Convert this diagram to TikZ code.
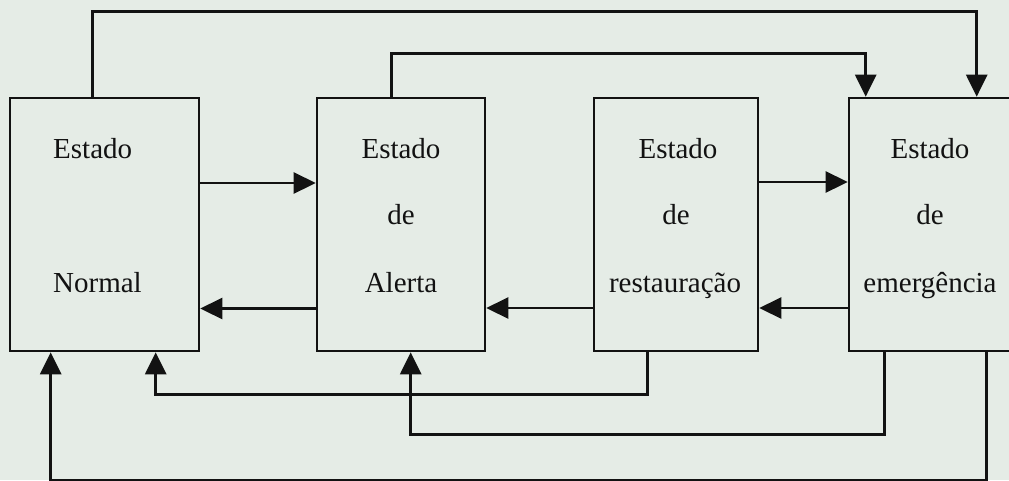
\documentclass[tikz,border=0pt]{standalone}
\usepackage{fontspec}
\setmainfont{Liberation Serif}
\usetikzlibrary{arrows.meta}
\definecolor{paper}{RGB}{229,236,230}
\definecolor{ink}{RGB}{18,18,18}
\begin{document}
\begin{tikzpicture}[x=1pt,y=-1pt,
  state/.style={draw=ink, line width=2.6pt, rectangle, inner sep=0pt,
    minimum height=253pt},
  lbl/.style={anchor=base, inner sep=0pt, text=ink,
    font=\fontsize{29}{34}\selectfont},
  arr/.style={draw=ink, line width=2.6pt,
    -{Triangle[length=22pt,width=21pt]}}]
% page
\fill[paper] (0,0) rectangle (1009,480);
\useasboundingbox (0,0) rectangle (1009,480);

% the four states
\node[state, minimum width=189pt] (n1) at (104.5,224.5) {};
\node[state, minimum width=168pt] (n2) at (401,224.5) {};
\node[state, minimum width=164pt] (n3) at (676,224.5) {};
\node[state, minimum width=164pt] (n4) at (931,224.5) {};

% labels
\node[lbl, anchor=base west] (l1a) at (53,158) {Estado};
\node[lbl, anchor=base west] (l1b) at (53,292) {Normal};
\node[lbl] (l2a) at (401,158) {Estado};
\node[lbl] (l2b) at (401,224) {de};
\node[lbl] (l2c) at (401,292) {Alerta};
\node[lbl] (l3a) at (678,158) {Estado};
\node[lbl] (l3b) at (676,224) {de};
\node[lbl] (l3c) at (675,292) {restauração};
\node[lbl] (l4a) at (930,158) {Estado};
\node[lbl] (l4b) at (930,224) {de};
\node[lbl] (l4c) at (930,292) {emergência};

% forward transitions
\draw[arr] ([yshift=41.5pt]n1.east) -- ([yshift=41.5pt]n2.west);
\draw[arr] ([yshift=42.5pt]n3.east) -- ([yshift=42.5pt]n4.west);

% backward transitions
\draw[arr] ([yshift=-84pt]n2.west) -- ([yshift=-84pt]n1.east);
\draw[arr] ([yshift=-83.5pt]n3.west) -- ([yshift=-83.5pt]n2.east);
\draw[arr] ([yshift=-83.5pt]n4.west) -- ([yshift=-83.5pt]n3.east);

% loops over the top
\draw[arr] ([xshift=84pt]n1.north west) -- ++(0,-85)
  -| ([xshift=129pt]n4.north west);
\draw[arr] ([xshift=76pt]n2.north west) -- ++(0,-43)
  -| ([xshift=18pt]n4.north west);

% returns underneath
\draw[arr] ([xshift=55pt]n3.south west) -- ++(0,42)
  -| ([xshift=147pt]n1.south west);
\draw[arr] ([xshift=37pt]n4.south west) -- ++(0,82)
  -| ([xshift=95pt]n2.south west);
\draw[arr] ([xshift=139pt]n4.south west) -- ++(0,127.5)
  -| ([xshift=42pt]n1.south west);
\end{tikzpicture}
\end{document}
